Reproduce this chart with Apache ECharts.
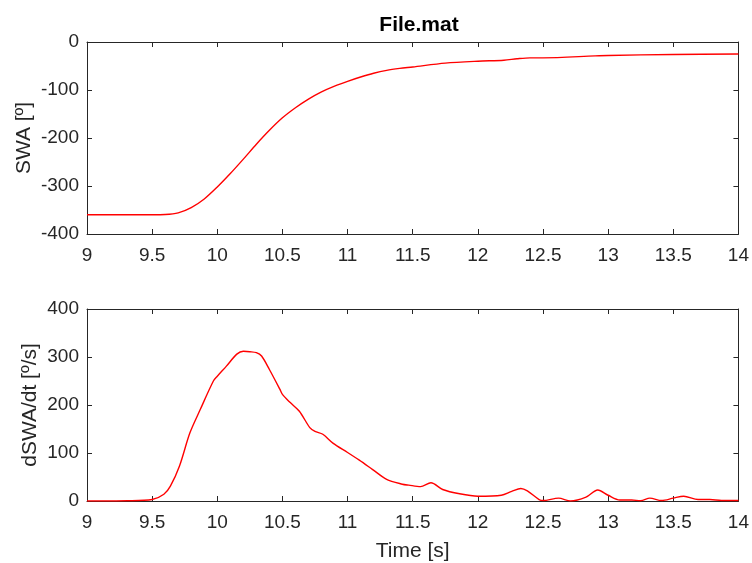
<!DOCTYPE html>
<html>
<head>
<meta charset="utf-8">
<script src="https://cdn.jsdelivr.net/npm/echarts@6/dist/echarts.min.js"></script>
<style>html,body{margin:0;padding:0;background:#fff}#c{width:752px;height:563px}</style>
</head>
<body>
<div id="c"></div>
<script>
// Top subplot: steering wheel angle
var swaTime  = [9.0, 9.5, 9.6, 9.7, 9.8, 9.9, 10.0, 10.1, 10.2, 10.3, 10.4, 10.5, 10.6, 10.7, 10.8, 10.9, 11.0, 11.1, 11.2, 11.3, 11.4, 11.5, 11.75, 12.0, 12.2, 12.3, 12.4, 12.5, 12.9, 13.0, 13.5, 14.0];
var swaValue = [-360, -360, -359.5, -356, -345, -327, -302, -274, -244, -213, -184, -158, -137, -119, -104, -92, -82, -73, -65, -59, -55, -52, -44, -40, -38, -35, -33, -33, -29, -28, -26, -25];
// Bottom subplot: steering wheel rate
var rateTime  = [9.0, 9.31, 9.5, 9.59, 9.64, 9.71, 9.79, 9.87, 9.97, 10.0, 10.07, 10.15, 10.2, 10.25, 10.3, 10.34, 10.4, 10.48, 10.5, 10.56, 10.63, 10.71, 10.75, 10.81, 10.89, 11.0, 11.09, 11.19, 11.3, 11.42, 11.47, 11.56, 11.64, 11.73, 11.86, 12.0, 12.18, 12.26, 12.33, 12.38, 12.47, 12.5, 12.62, 12.71, 12.83, 12.92, 13.0, 13.09, 13.18, 13.25, 13.32, 13.41, 13.5, 13.58, 13.69, 13.78, 13.87, 14.0];
var rateValue = [0, 0.5, 3, 14, 31, 73, 142, 191, 250, 260, 281, 306, 312, 311, 309, 302, 274, 233, 222, 205, 187, 153, 145, 139, 120, 101, 85, 66, 45, 35, 33, 30, 38, 24, 15, 10, 12, 20, 26, 21, 3, 1, 6, 0, 8, 23, 12, 2, 2, 0.5, 6, 1, 6, 10, 3, 3, 1, 1];

function pairs(t, v) { return t.map(function (x, i) { return [x, v[i]]; }); }

var ink = '#262626';
var font = 'Liberation Sans, Arial, Helvetica, sans-serif';
var tickFs = 19, nameFs = 21;

function xAxisMain(gi, name) {
  return {
    type: 'value', gridIndex: gi, min: 9, max: 14, interval: 0.5, position: 'bottom',
    axisLine: { show: true, onZero: false, lineStyle: { color: ink, width: 1 } },
    axisTick: { show: true, inside: true, length: 5, lineStyle: { color: ink } },
    axisLabel: { color: ink, fontSize: tickFs, fontFamily: font, margin: 12,
      formatter: function (v) { return String(v); } },
    splitLine: { show: false },
    name: name, nameLocation: 'middle', nameGap: 40, nameMoveOverlap: false,
    nameTextStyle: { color: ink, fontSize: nameFs, fontFamily: font }
  };
}
function xAxisTop(gi) {
  return {
    type: 'value', gridIndex: gi, min: 9, max: 14, interval: 0.5, position: 'top',
    axisLine: { show: true, onZero: false, lineStyle: { color: ink, width: 1 } },
    axisTick: { show: true, inside: true, length: 5, lineStyle: { color: ink } },
    axisLabel: { show: false }, splitLine: { show: false }
  };
}
function yAxisMain(gi, min, max, name, gap) {
  return {
    type: 'value', gridIndex: gi, min: min, max: max, interval: 100, position: 'left',
    axisLine: { show: true, onZero: false, lineStyle: { color: ink, width: 1 } },
    axisTick: { show: true, inside: true, length: 5, lineStyle: { color: ink } },
    axisLabel: { color: ink, fontSize: tickFs, fontFamily: font, margin: 8 },
    splitLine: { show: false },
    name: name, nameLocation: 'middle', nameGap: gap, nameRotate: 90, nameMoveOverlap: false,
    nameTextStyle: { color: ink, fontSize: nameFs, fontFamily: font }
  };
}
function yAxisRight(gi, min, max) {
  return {
    type: 'value', gridIndex: gi, min: min, max: max, interval: 100, position: 'right',
    axisLine: { show: true, onZero: false, lineStyle: { color: ink, width: 1 } },
    axisTick: { show: true, inside: true, length: 5, lineStyle: { color: ink } },
    axisLabel: { show: false }, splitLine: { show: false }
  };
}

var chart = echarts.init(document.getElementById('c'), null, { renderer: 'canvas' });
chart.setOption({
  backgroundColor: '#fff',
  animation: false,
  title: { text: 'File.mat', left: 414, top: 10, textAlign: 'center',
    textStyle: { fontSize: 21, fontWeight: 'bold', color: '#000', fontFamily: font } },
  grid: [
    { left: 87, top: 42, width: 653, height: 192 },
    { left: 87, top: 309, width: 653, height: 192 }
  ],
  xAxis: [xAxisMain(0, ''), xAxisTop(0), xAxisMain(1, 'Time [s]'), xAxisTop(1)],
  yAxis: [yAxisMain(0, -400, 0, 'SWA [º]', 52), yAxisRight(0, -400, 0),
          yAxisMain(1, 0, 400, 'dSWA/dt [º/s]', 46), yAxisRight(1, 0, 400)],
  series: [
    { type: 'line', xAxisIndex: 0, yAxisIndex: 0, data: pairs(swaTime, swaValue),
      showSymbol: false, smooth: 0.3, lineStyle: { color: '#ff0000', width: 1.4 } },
    { type: 'line', xAxisIndex: 2, yAxisIndex: 2, data: pairs(rateTime, rateValue),
      showSymbol: false, smooth: 0.3, lineStyle: { color: '#ff0000', width: 1.4 } }
  ]
});
</script>
</body>
</html>
